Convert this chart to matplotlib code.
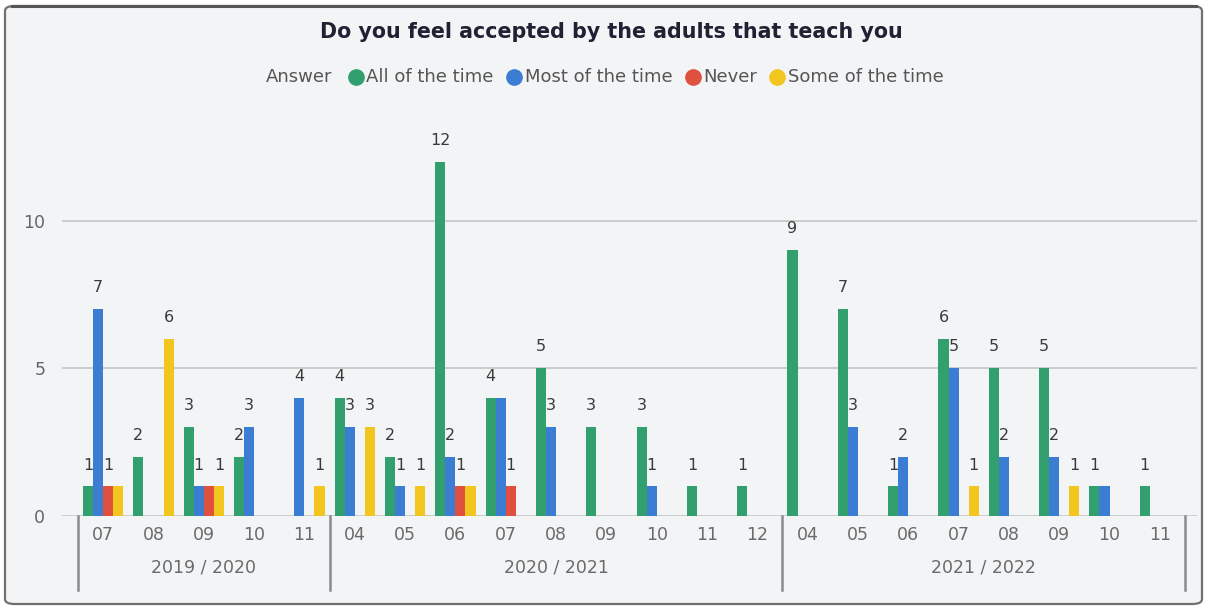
import numpy as np
import matplotlib.pyplot as plt
from matplotlib.patches import FancyBboxPatch
from matplotlib.lines import Line2D
import matplotlib.transforms as mtransforms

plt.rcParams['font.family'] = ['DejaVu Sans']

# school years and the months reported in each
years = ["2019 / 2020", "2020 / 2021", "2021 / 2022"]
months = [
    ["07", "08", "09", "10", "11"],
    ["04", "05", "06", "07", "08", "09", "10", "11", "12"],
    ["04", "05", "06", "07", "08", "09", "10", "11"],
]

answers = ["All of the time", "Most of the time", "Never", "Some of the time"]
all_of_time = [1, 2, 3, 2, 0, 4, 2, 12, 4, 5, 3, 3, 1, 1, 9, 7, 1, 6, 5, 5, 1, 1]
most_of_time = [7, 0, 1, 3, 4, 3, 1, 2, 4, 3, 0, 1, 0, 0, 0, 3, 2, 5, 2, 2, 1, 0]
never = [1, 0, 1, 0, 0, 0, 0, 1, 1, 0, 0, 0, 0, 0, 0, 0, 0, 0, 0, 0, 0, 0]
some_of_time = [1, 6, 1, 0, 1, 3, 1, 1, 0, 0, 0, 0, 0, 0, 0, 0, 0, 1, 0, 1, 0, 0]

series = [all_of_time, most_of_time, never, some_of_time]
colors = ["#31a06e", "#3a7dd2", "#e0503f", "#f2c61e"]

W, H = 1207, 609
fig = plt.figure(figsize=(W / 100, H / 100), dpi=100)
fig.patch.set_facecolor("white")

# card background with rounded frame
card = FancyBboxPatch((5 / W, 5 / H), 1197 / W, 598 / H,
                      boxstyle="round,pad=0,rounding_size=0.008",
                      transform=fig.transFigure, facecolor="#f3f4f6",
                      edgecolor="#707070", linewidth=1.6, zorder=-5)
fig.patches.append(card)
# darker top edge of the card
fig.lines.append(Line2D([12 / W, 1196 / W], [1 - 6 / H, 1 - 6 / H], color="#555555",
                        linewidth=2.2, transform=fig.transFigure, zorder=-4))

ax = fig.add_axes([62 / W, (H - 516) / H, (1197 - 62) / W, (516 - 132) / H])
ax.set_facecolor("none")

n = len(all_of_time)
x = np.arange(n)
width = 0.2
offsets = (np.arange(len(series)) - 1.5) * width

for vals, off, col in zip(series, offsets, colors):
    ax.bar(x + off, vals, width=width, color=col, zorder=3)

# data labels, skipping ones that would collide with a neighbour
for i in range(n):
    shown = []
    for vals, off in zip(series, offsets):
        v = vals[i]
        if v == 0:
            continue
        xp = i + off
        if any(abs(xp - sx) < 0.25 and abs(v - sy) < 0.5 for sx, sy in shown):
            continue
        shown.append((xp, v))
        ax.annotate(str(v), (xp, v), xytext=(0, 10), textcoords="offset points",
                    ha="center", va="bottom", fontsize=11.5, color="#3a3a3a",
                    zorder=4)

ax.set_xlim(-0.5 - 16 / 50.3, n - 0.5 + 12 / 50.3)
ax.set_ylim(0, 13)
ax.set_yticks([0, 5, 10])
ax.yaxis.grid(True, color="#c4c4c4", linewidth=1.2, zorder=1)
ax.tick_params(axis="y", length=0, pad=12, labelsize=12.5, labelcolor="#666666")
ax.set_xticks([])
for side in ["top", "right", "left", "bottom"]:
    ax.spines[side].set_visible(False)

# two-level category axis: months, then school years with separators
trans = mtransforms.blended_transform_factory(ax.transData, ax.transAxes)
month_y = -(535 - 516) / 384
year_y = -(567 - 516) / 384
sep_bottom = -(590 - 516) / 384
start = 0
bounds = [-0.5]
for yr, ms in zip(years, months):
    for j, m in enumerate(ms):
        ax.text(start + j, month_y, m, transform=trans, ha="center", va="center",
                fontsize=12.5, color="#6a6a6a")
    ax.text(start + (len(ms) - 1) / 2, year_y, yr, transform=trans,
            ha="center", va="center", fontsize=12.5, color="#6a6a6a")
    start += len(ms)
    bounds.append(start - 0.5)
for b in bounds:
    ax.plot([b, b], [0, sep_bottom], transform=trans, color="#8a8a8a",
            linewidth=1.8, clip_on=False)

fig.text(611 / W, 1 - 32 / H, "Do you feel accepted by the adults that teach you",
         ha="center", va="center", fontsize=14.9, fontweight="bold", color="#1f2233")

# legend row laid out left to right
renderer = fig.canvas.get_renderer()
ly = 1 - 77 / H
cursor = 266
t = fig.text(cursor / W, ly, "Answer", ha="left", va="center", fontsize=13,
             color="#555555")
cursor += t.get_window_extent(renderer).width + 15
for name, col in zip(answers, colors):
    fig.lines.append(Line2D([(cursor + 8) / W], [ly], marker="o", markersize=11,
                            color=col, linestyle="", transform=fig.transFigure))
    t = fig.text((cursor + 19) / W, ly, name, ha="left", va="center", fontsize=13,
                 color="#555555")
    cursor += 19 + t.get_window_extent(renderer).width + 12

fig.savefig("out.png", dpi=100, facecolor=fig.get_facecolor())
